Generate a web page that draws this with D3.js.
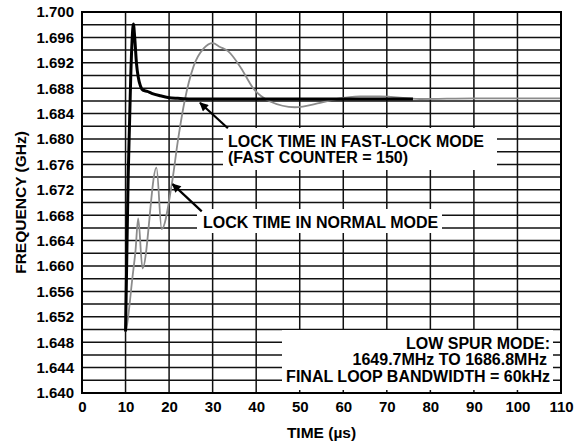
<!DOCTYPE html>
<html><head><meta charset="utf-8">
<script src="https://cdn.jsdelivr.net/npm/d3@7"></script>
<style>body{margin:0;background:#fff}svg{display:block}text{font-family:"Liberation Sans",Arial,sans-serif;font-weight:bold;fill:#000}</style>
</head><body><svg id="c" width="584" height="446"></svg>
<script>
const xTicks = [0,10,20,30,40,50,60,70,80,90,100,110];
const yTicks = [1.640,1.644,1.648,1.652,1.656,1.660,1.664,1.668,1.672,1.676,1.680,1.684,1.688,1.692,1.696,1.700];
const fastT = [10,10.3,10.6,10.9,11.2,11.5,11.8,12.1,12.5,12.9,13.4,14,15,16,18,20,22,25,30,40,50,60,76];
const fastF = [1.6497,1.662,1.674,1.682,1.690,1.6955,1.6981,1.6960,1.6920,1.6898,1.6884,1.6877,1.6875,1.6872,1.6868,1.6865,1.6864,1.6863,1.6863,1.6863,1.6863,1.6863,1.6863];
const normT = [10,10.1,11.6,12.3,12.9,13.9,17.1,18.3,20.6,22.1,23.6,25.6,28,30,31.7,33.6,36.5,39.3,43.2,48.9,54.7,58.5,63.8,68.4,77.6,90,110];
const normF = [1.6497,1.6499,1.6583,1.6625,1.6675,1.6596,1.6755,1.6658,1.6728,1.6801,1.6861,1.6914,1.6943,1.6951,1.6945,1.6938,1.6912,1.6880,1.6859,1.6850,1.6857,1.6863,1.6867,1.6867,1.6863,1.6864,1.6864];

const svg = d3.select("#c");
const L=82,R=561,T=12,B=393;
const x = d3.scaleLinear().domain([0,110]).range([L,R]);
const y = d3.scaleLinear().domain([1.640,1.700]).range([B,T]);

// grid
const g = svg.append("g");
d3.range(1.642,1.6995,0.002).forEach(v=>{
  g.append("line").attr("x1",L).attr("x2",R).attr("y1",y(v)).attr("y2",y(v)).attr("stroke","#111").attr("stroke-width",1.5);
});
xTicks.slice(1,-1).forEach(v=>{
  g.append("line").attr("x1",x(v)).attr("x2",x(v)).attr("y1",T).attr("y2",B).attr("stroke","#111").attr("stroke-width",1.5);
});

// curves
const lineN = d3.line().x((d,i)=>x(normT[i])).y(d=>y(d)).curve(d3.curveMonotoneX);
const lineF = d3.line().x((d,i)=>x(fastT[i])).y(d=>y(d)).curve(d3.curveMonotoneX);
svg.append("path").attr("d",lineN(normF)).attr("fill","none").attr("stroke","#8c8c8c").attr("stroke-width",1.8);
svg.append("path").attr("d",lineF(fastF)).attr("fill","none").attr("stroke","#000").attr("stroke-width",3).attr("stroke-linejoin","round");

// frame
svg.append("rect").attr("x",L).attr("y",T).attr("width",R-L).attr("height",B-T).attr("fill","none").attr("stroke","#000").attr("stroke-width",2);

// axes labels
const xa = d3.axisBottom(x).tickValues(xTicks).tickSize(0).tickPadding(8);
svg.append("g").attr("transform",`translate(0,${B})`).call(xa).call(s=>s.select(".domain").remove())
  .selectAll("text").style("font-size","15px").style("font-family","Liberation Sans, Arial, sans-serif").style("font-weight","bold").attr("fill","#000");
const ya = d3.axisLeft(y).tickValues(yTicks).tickSize(0).tickPadding(8).tickFormat(d3.format(".3f"));
svg.append("g").attr("transform",`translate(${L},0)`).call(ya).call(s=>s.select(".domain").remove())
  .selectAll("text").style("font-size","15px").style("font-family","Liberation Sans, Arial, sans-serif").style("font-weight","bold").attr("fill","#000");

svg.append("text").attr("x",(L+R)/2).attr("y",438).attr("text-anchor","middle").style("font-size","15.5px").text("TIME (µs)");
svg.append("text").attr("transform",`translate(26,${(T+B)/2}) rotate(-90)`).attr("text-anchor","middle").style("font-size","15.5px").text("FREQUENCY (GHz)");

// annotation boxes
function box(x0,y0,x1,y1){svg.append("rect").attr("x",x0).attr("y",y0).attr("width",x1-x0).attr("height",y1-y0).attr("fill","#fff");}
box(223,128,497,170);
svg.append("text").attr("x",228).attr("y",147).style("font-size","16px").text("LOCK TIME IN FAST-LOCK MODE");
svg.append("text").attr("x",228).attr("y",163).style("font-size","16px").text("(FAST COUNTER = 150)");
box(197,209,442,233);
svg.append("text").attr("x",203).attr("y",228).style("font-size","16px").text("LOCK TIME IN NORMAL MODE");
box(282,330,553,390);
svg.append("text").attr("x",550).attr("y",349).attr("text-anchor","end").style("font-size","16px").text("LOW SPUR MODE:");
svg.append("text").attr("x",547).attr("y",365).attr("text-anchor","end").style("font-size","16px").text("1649.7MHz TO 1686.8MHz");
svg.append("text").attr("x",550).attr("y",382).attr("text-anchor","end").style("font-size","16px").text("FINAL LOOP BANDWIDTH = 60kHz");

// arrows
svg.append("defs").append("marker").attr("id","ah").attr("viewBox","0 0 10 10").attr("refX",9).attr("refY",5)
  .attr("markerWidth",5).attr("markerHeight",4).attr("orient","auto").attr("markerUnits","strokeWidth")
  .append("path").attr("d","M0,0L10,5L0,10z").attr("fill","#000");
function arrow(t0,f0,t1,f1){svg.append("line").attr("x1",x(t0)).attr("y1",y(f0)).attr("x2",x(t1)).attr("y2",y(f1)).attr("stroke","#000").attr("stroke-width",2.2).attr("marker-end","url(#ah)");}
arrow(33.5,1.6817,27.1,1.6857);
arrow(27.5,1.6686,20.8,1.6729);
</script></body></html>
